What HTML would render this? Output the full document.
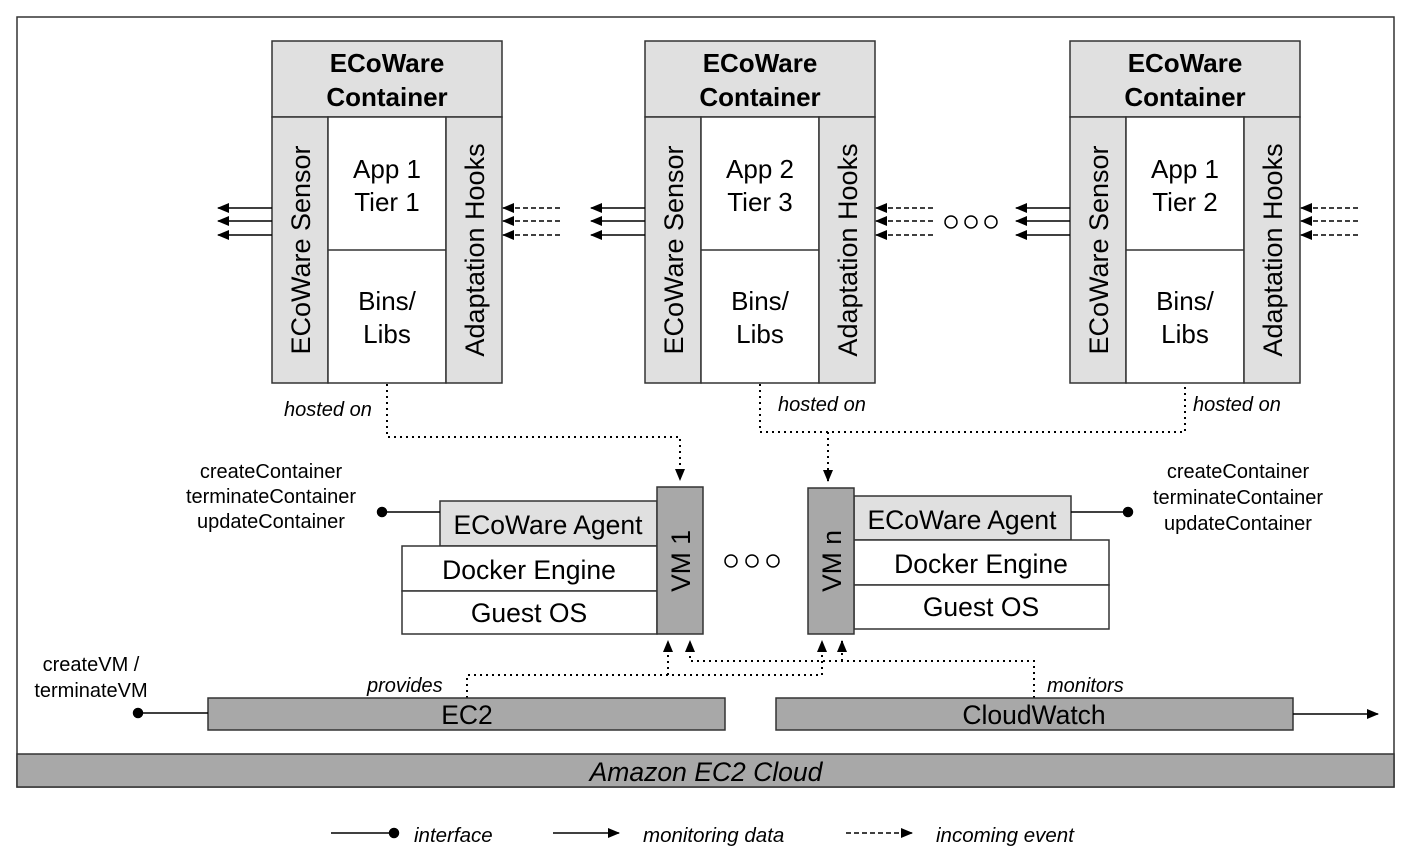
<!DOCTYPE html>
<html><head><style>body{margin:0;background:#fff}svg{display:block}text{font-family:"Liberation Sans",sans-serif;fill:#000}</style></head><body>
<svg width="1411" height="861" viewBox="0 0 1411 861" xmlns="http://www.w3.org/2000/svg">
<defs>
<marker id="a" markerWidth="12" markerHeight="10" refX="11" refY="5" orient="auto" markerUnits="userSpaceOnUse"><path d="M0,0L12,5L0,10z" fill="#000"/></marker>
</defs>
<rect x="17" y="17" width="1377" height="770" fill="#fff" stroke="#333" stroke-width="1.5"/>
<rect x="17" y="754" width="1377" height="33" fill="#a8a8a8" stroke="#333" stroke-width="1.5"/>
<text x="706" y="781" font-size="26.5" font-style="italic" text-anchor="middle">Amazon EC2 Cloud</text>

<g id="c1" stroke="#333" stroke-width="1.5">
<rect x="272" y="41" width="230" height="76" fill="#e0e0e0"/>
<rect x="272" y="117" width="56" height="266" fill="#e0e0e0"/>
<rect x="328" y="117" width="118" height="266" fill="#fff"/>
<rect x="446" y="117" width="56" height="266" fill="#e0e0e0"/>
<line x1="328" y1="250" x2="446" y2="250"/>
</g>
<g id="t1" font-size="26" text-anchor="middle">
<text x="387" y="72" font-weight="bold">ECoWare</text><text x="387" y="106" font-weight="bold">Container</text>
<text x="387" y="178">App 1</text><text x="387" y="211">Tier 1</text>
<text x="387" y="310">Bins/</text><text x="387" y="343">Libs</text>
<text transform="translate(310,250) rotate(-90)" font-size="27">ECoWare Sensor</text>
<text transform="translate(484,250) rotate(-90)" font-size="27">Adaptation Hooks</text>
</g>
<use href="#c1" x="373"/>
<g font-size="26" text-anchor="middle" transform="translate(373,0)">
<text x="387" y="72" font-weight="bold">ECoWare</text><text x="387" y="106" font-weight="bold">Container</text>
<text x="387" y="178">App 2</text><text x="387" y="211">Tier 3</text>
<text x="387" y="310">Bins/</text><text x="387" y="343">Libs</text>
<text transform="translate(310,250) rotate(-90)" font-size="27">ECoWare Sensor</text>
<text transform="translate(484,250) rotate(-90)" font-size="27">Adaptation Hooks</text>
</g>
<use href="#c1" x="798"/>
<g font-size="26" text-anchor="middle" transform="translate(798,0)">
<text x="387" y="72" font-weight="bold">ECoWare</text><text x="387" y="106" font-weight="bold">Container</text>
<text x="387" y="178">App 1</text><text x="387" y="211">Tier 2</text>
<text x="387" y="310">Bins/</text><text x="387" y="343">Libs</text>
<text transform="translate(310,250) rotate(-90)" font-size="27">ECoWare Sensor</text>
<text transform="translate(484,250) rotate(-90)" font-size="27">Adaptation Hooks</text>
</g>

<g id="arr" stroke="#000" stroke-width="1.5">
<line x1="272" y1="208" x2="218" y2="208" marker-end="url(#a)"/>
<line x1="272" y1="221" x2="218" y2="221" marker-end="url(#a)"/>
<line x1="272" y1="235" x2="218" y2="235" marker-end="url(#a)"/>
<line x1="560" y1="208" x2="503" y2="208" stroke-dasharray="5,3" marker-end="url(#a)"/>
<line x1="560" y1="221" x2="503" y2="221" stroke-dasharray="5,3" marker-end="url(#a)"/>
<line x1="560" y1="235" x2="503" y2="235" stroke-dasharray="5,3" marker-end="url(#a)"/>
</g>
<use href="#arr" x="373"/>
<use href="#arr" x="798"/>
<g fill="none" stroke="#000" stroke-width="1.5">
<circle cx="951" cy="222" r="6"/><circle cx="971" cy="222" r="6"/><circle cx="991" cy="222" r="6"/>
<circle cx="731" cy="561" r="6"/><circle cx="752" cy="561" r="6"/><circle cx="773" cy="561" r="6"/>
</g>

<g fill="none" stroke="#000" stroke-width="2" stroke-dasharray="2,4">
<path d="M387,384V437H680V480" marker-end="url(#a)"/>
<path d="M760,384V432H1185V384"/>
<path d="M828,432V481" marker-end="url(#a)"/>
<path d="M467,698V675H822V641" marker-end="url(#a)"/>
<path d="M668,675V641" marker-end="url(#a)"/>
<path d="M1034,698V661H690V641" marker-end="url(#a)"/>
<path d="M842,661V641" marker-end="url(#a)"/>
</g>
<g font-size="20" font-style="italic">
<text x="284" y="416">hosted on</text>
<text x="778" y="411">hosted on</text>
<text x="1193" y="411">hosted on</text>
<text x="367" y="692">provides</text>
<text x="1047" y="692">monitors</text>
</g>

<g stroke="#333" stroke-width="1.5">
<rect x="440" y="501" width="217" height="45" fill="#e0e0e0"/>
<rect x="402" y="546" width="255" height="45" fill="#fff"/>
<rect x="402" y="591" width="255" height="43" fill="#fff"/>
<rect x="657" y="487" width="46" height="147" fill="#a8a8a8"/>
<rect x="854" y="496" width="217" height="44" fill="#e0e0e0"/>
<rect x="854" y="540" width="255" height="45" fill="#fff"/>
<rect x="854" y="585" width="255" height="44" fill="#fff"/>
<rect x="808" y="488" width="46" height="146" fill="#a8a8a8"/>
<rect x="208" y="698" width="517" height="32" fill="#a8a8a8"/>
<rect x="776" y="698" width="517" height="32" fill="#a8a8a8"/>
</g>
<g font-size="26.5" text-anchor="middle">
<text x="548" y="534">ECoWare Agent</text>
<text x="529" y="579">Docker Engine</text>
<text x="529" y="622">Guest OS</text>
<text x="962" y="529">ECoWare Agent</text>
<text x="981" y="573">Docker Engine</text>
<text x="981" y="616">Guest OS</text>
<text transform="translate(690,561) rotate(-90)">VM 1</text>
<text transform="translate(841,561) rotate(-90)">VM n</text>
<text x="467" y="724">EC2</text>
<text x="1034" y="724">CloudWatch</text>
</g>
<g stroke="#000" stroke-width="1.5">
<line x1="382" y1="512" x2="440" y2="512"/><circle cx="382" cy="512" r="4.5" fill="#000"/>
<line x1="1071" y1="512" x2="1128" y2="512"/><circle cx="1128" cy="512" r="4.5" fill="#000"/>
<line x1="138" y1="713" x2="208" y2="713"/><circle cx="138" cy="713" r="4.5" fill="#000"/>
<line x1="1293" y1="714" x2="1378" y2="714" marker-end="url(#a)"/>
</g>
<g font-size="20" text-anchor="middle">
<text x="271" y="478">createContainer</text><text x="271" y="503">terminateContainer</text><text x="271" y="528">updateContainer</text>
<text x="1238" y="478">createContainer</text><text x="1238" y="504">terminateContainer</text><text x="1238" y="530">updateContainer</text>
<text x="91" y="671">createVM /</text><text x="91" y="697">terminateVM</text>
</g>

<g stroke="#000" stroke-width="1.5">
<line x1="331" y1="833" x2="393" y2="833"/><circle cx="394" cy="833" r="4.5" fill="#000"/>
<line x1="553" y1="833" x2="619" y2="833" marker-end="url(#a)"/>
<line x1="846" y1="833" x2="912" y2="833" stroke-dasharray="5,3" marker-end="url(#a)"/>
</g>
<g font-size="20.5" font-style="italic">
<text x="414" y="842">interface</text>
<text x="643" y="842">monitoring data</text>
<text x="936" y="842">incoming event</text>
</g>
</svg>
</body></html>
